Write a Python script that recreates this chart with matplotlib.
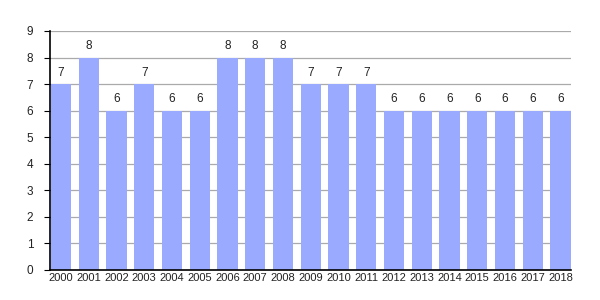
import matplotlib
matplotlib.use("Agg")
import matplotlib.pyplot as plt

plt.rcParams["font.family"] = ["Liberation Sans", "DejaVu Sans"]

anos = [str(a) for a in range(2000, 2019)]
valores = [7, 8, 6, 7, 6, 6, 8, 8, 8, 7, 7, 7, 6, 6, 6, 6, 6, 6, 6]

fig = plt.figure(figsize=(6, 3), dpi=100)
ax = fig.add_axes([0.0833, 0.1, 0.952 - 0.0833, 0.8967 - 0.1])

largura = 0.73
x = list(range(len(anos)))
ax.bar(x, valores, width=largura, color="#99aaff", zorder=2)

for xi, v in zip(x, valores):
    ax.text(xi, v + 0.2, str(v), ha="center", va="bottom", fontsize=8.5, color="#222222")

ax.set_xlim(-largura / 2 - 0.03, len(anos) - 1 + largura / 2 + 0.02)
ax.set_ylim(0, 9)
ax.set_yticks(range(0, 10))
ax.set_xticks(x)
ax.set_xticklabels(anos)
ax.tick_params(axis="x", length=0, labelsize=8, pad=2, colors="#222222")
ax.tick_params(axis="y", length=4, labelsize=8.5, pad=8, colors="#222222")
ax.tick_params(axis="both", color="black")
ax.grid(axis="y", color="#aaaaaa", linewidth=0.9, zorder=0)

for lado in ["top", "right"]:
    ax.spines[lado].set_visible(False)
ax.spines["left"].set_linewidth(1.2)
ax.spines["bottom"].set_linewidth(1.2)
ax.spines["left"].set_zorder(3)
ax.spines["bottom"].set_zorder(3)

fig.savefig("out.png", dpi=100)
